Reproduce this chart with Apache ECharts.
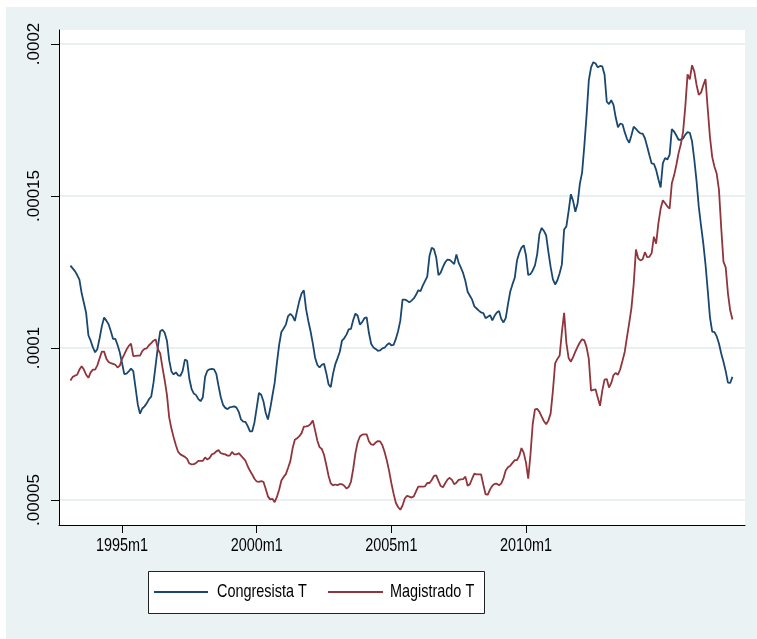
<!DOCTYPE html>
<html>
<head>
<meta charset="utf-8">
<script src="https://cdn.jsdelivr.net/npm/echarts@6/dist/echarts.min.js"></script>
<style>
  html, body { margin: 0; padding: 0; background: #ffffff; }
  #wrap { position: relative; width: 757px; height: 639px; overflow: hidden; }
  #bg { position: absolute; left: 6px; top: 7px; right: 0; bottom: 0; background: #eaf2f3; }
  #chart { position: absolute; left: 0; top: 0; width: 757px; height: 639px; }
</style>
</head>
<body>
<div id="wrap"><div id="bg"></div><div id="chart"></div></div>
<script>
// Monthly series, first observation in 1993m2, values in millionths
const firstMonth = '1993m2';
const valueUnit = 1e-6;

const congresista = [
  127.1,126.2,125.3,124.0,122.5,118.0,114.8,111.5,104.2,102.4,
  100.2,98.6,99.7,103.2,107.2,110.0,109.0,107.8,105.5,103.0,
  103.0,101.0,98.5,95.0,91.4,91.6,92.3,93.2,92.4,87.0,
  81.5,78.4,80.1,80.8,81.8,83.2,84.0,88.5,94.5,100.5,
  105.5,106.0,105.0,102.4,96.0,92.3,91.3,92.0,91.0,90.8,
  92.5,96.2,95.8,89.8,86.5,85.0,84.5,83.2,82.5,83.8,
  90.5,92.5,93.0,93.1,93.0,91.5,87.5,83.8,81.3,80.3,
  79.9,80.5,80.6,80.8,80.4,79.0,76.5,75.8,75.7,74.3,
  72.6,72.6,75.5,80.3,85.2,84.6,82.5,78.7,76.5,80.0,
  84.3,88.5,95.0,101.0,105.3,106.4,107.7,110.5,111.2,110.5,
  108.9,112.3,115.5,117.9,119.0,112.8,108.9,105.5,101.5,96.9,
  94.5,93.6,94.5,94.8,91.8,88.1,87.1,91.5,94.6,96.6,
  98.7,102.4,103.2,104.4,106.1,106.3,109.2,111.3,110.6,107.7,
  108.5,109.8,110.1,105.0,101.4,100.2,99.7,99.1,99.2,99.9,
  100.1,101.0,101.6,100.9,101.0,103.0,105.5,109.0,115.9,115.9,
  115.6,115.0,115.6,116.3,117.5,119.0,118.7,120.5,122.0,123.5,
  130.3,133.0,132.5,129.8,124.0,124.8,126.7,128.2,129.1,129.0,
  128.3,127.6,130.8,128.0,126.4,124.6,122.0,118.5,117.2,115.9,
  113.7,113.0,112.3,111.7,111.5,109.8,110.3,110.8,109.1,110.6,
  111.7,112.2,109.5,108.4,109.9,114.5,118.6,121.0,123.1,128.8,
  131.3,133.0,133.8,130.5,124.0,124.3,125.5,127.2,130.9,137.5,
  139.5,138.5,137.0,131.5,126.6,122.6,120.9,122.3,124.6,127.5,
  139.0,140.0,145.0,150.6,148.4,144.8,147.5,154.0,157.7,166.5,
  176.5,188.0,192.3,194.0,193.6,192.3,192.8,192.6,190.0,181.0,
  180.2,181.5,180.0,175.8,172.6,173.8,173.6,171.0,168.8,167.5,
  170.0,172.8,172.1,171.2,170.6,170.5,169.0,166.3,163.4,160.7,
  160.6,158.6,155.5,152.8,160.8,162.5,162.0,163.5,172.0,171.2,
  169.9,168.5,168.5,168.9,170.2,171.0,170.8,168.0,162.0,155.0,
  146.5,140.3,134.5,127.5,118.9,110.0,105.4,105.2,103.8,101.5,
  98.2,95.5,92.4,88.6,88.5,90.5
];

const magistrado = [
  89.3,90.5,90.9,91.2,92.9,94.0,92.9,91.2,90.2,92.0,
  92.9,92.9,94.3,96.6,98.8,98.8,96.5,95.4,95.0,94.8,
  94.5,93.6,94.2,96.4,97.9,99.5,100.7,101.4,97.3,97.4,
  97.5,97.5,99.0,99.7,99.9,100.9,101.6,102.4,102.8,99.6,
  98.2,93.6,89.4,84.6,77.2,73.5,70.6,68.0,65.8,65.0,
  64.6,64.2,63.5,62.0,61.7,61.8,62.2,62.9,62.9,62.9,
  64.0,63.3,63.8,65.0,65.3,66.0,66.4,65.4,65.2,65.0,
  64.6,64.6,65.8,65.0,65.0,65.4,64.6,63.8,62.9,61.1,
  59.6,58.4,57.0,56.1,56.0,56.2,56.0,53.7,51.2,50.2,
  50.4,49.3,51.0,53.4,56.4,57.6,58.5,60.6,62.8,67.0,
  69.8,70.3,71.0,72.0,74.1,74.2,74.4,75.0,76.2,73.0,
  69.6,67.4,66.8,64.9,61.6,58.0,55.5,54.8,55.1,54.9,
  55.2,55.2,54.7,53.8,54.3,56.0,60.2,65.4,69.0,70.9,
  71.5,71.6,71.6,69.3,68.3,68.1,68.9,69.4,69.3,68.0,
  65.8,63.0,59.6,55.6,52.1,49.1,47.7,46.8,48.2,50.5,
  51.4,51.1,50.8,51.2,52.8,54.4,54.4,54.4,54.5,55.6,
  55.6,56.6,57.9,58.1,56.3,54.6,54.2,55.5,56.7,57.3,
  56.6,55.2,55.7,56.6,56.8,56.9,57.7,54.7,55.2,57.0,
  58.7,58.4,58.4,58.4,55.0,51.9,51.8,53.5,54.7,55.3,
  55.4,54.8,55.5,57.2,59.8,60.8,61.3,62.2,63.1,63.1,
  64.5,67.1,65.5,62.3,57.0,65.0,75.0,79.8,80.0,79.0,
  77.4,75.9,74.9,76.2,78.5,86.0,95.0,96.4,97.5,105.2,
  111.6,101.7,96.7,95.5,97.0,98.8,100.4,101.8,102.9,102.5,
  100.3,96.4,86.0,86.2,86.4,83.6,81.0,86.0,89.6,89.8,
  87.0,88.5,91.1,91.8,91.2,93.0,95.8,98.7,103.6,108.2,
  113.2,121.0,132.4,129.5,128.8,129.2,131.5,129.9,130.0,131.2,
  136.6,134.3,141.0,145.8,148.6,147.6,146.6,145.8,154.2,156.8,
  160.2,164.1,167.0,171.1,179.4,190.0,188.4,193.0,191.0,186.6,
  183.3,184.0,186.4,188.5,178.6,169.3,162.8,159.6,157.3,152.0,
  139.6,128.4,126.5,118.0,112.4,109.4
];

const seriesNames = ['Congresista T', 'Magistrado T'];
const seriesColors = ['#1a476f', '#90353b'];

const xTickLabels = ['1995m1', '2000m1', '2005m1', '2010m1'];
const yTickValues = [0.00005, 0.0001, 0.00015, 0.0002];
const yTickLabels = ['.00005', '.0001', '.00015', '.0002'];

// Stata-style monthly index: months since 1960m1
function monthIndex(s) {
  const parts = s.split('m').map(Number);
  return (parts[0] - 1960) * 12 + (parts[1] - 1);
}

const start = monthIndex(firstMonth);
const toPairs = arr => arr.map((v, i) => [start + i, v * valueUnit]);
const xTicks = xTickLabels.map(monthIndex);

const SANS = 'Arial, "Liberation Sans", sans-serif';
// horizontal texts are set in a condensed width
const CONDENSE = 0.78;
const HFONT = '18.5px ' + SANS;

const chart = echarts.init(document.getElementById('chart'), null, { renderer: 'canvas' });

chart.setOption({
  animation: false,
  backgroundColor: 'transparent',
  grid: {
    left: 59, right: 12, top: 30, bottom: 114,
    show: true, backgroundColor: '#ffffff', borderWidth: 0,
    outerBoundsMode: 'none'
  },
  xAxis: {
    type: 'value',
    min: 391.9, max: 697.6,
    axisLine: { show: true, onZero: false, lineStyle: { color: '#000000', width: 1 } },
    axisTick: { show: true, length: 8, customValues: xTicks, lineStyle: { color: '#000000', width: 1 } },
    axisLabel: { show: false, customValues: xTicks },
    splitLine: { show: false }
  },
  yAxis: {
    type: 'value',
    min: 41.78e-6, max: 204.6e-6,
    axisLine: { show: true, onZero: false, lineStyle: { color: '#000000', width: 1 } },
    axisTick: { show: true, length: 8, customValues: yTickValues, lineStyle: { color: '#000000', width: 1 } },
    axisLabel: {
      customValues: yTickValues,
      rotate: 90,
      formatter: v => {
        let best = 0;
        yTickValues.forEach((t, k) => { if (Math.abs(t - v) < Math.abs(yTickValues[best] - v)) best = k; });
        return yTickLabels[best];
      },
      fontFamily: SANS, fontSize: 17, color: '#000000', margin: 16
    },
    splitLine: { show: true, lineStyle: { color: '#e3ebee', width: 1.5 } }
  },
  series: [
    {
      name: seriesNames[0], type: 'line', data: toPairs(congresista),
      symbol: 'none', showSymbol: false,
      lineStyle: { color: seriesColors[0], width: 1.8 },
      itemStyle: { color: seriesColors[0] }
    },
    {
      name: seriesNames[1], type: 'line', data: toPairs(magistrado),
      symbol: 'none', showSymbol: false,
      lineStyle: { color: seriesColors[1], width: 1.8 },
      itemStyle: { color: seriesColors[1] }
    }
  ]
});

// x tick labels, placed at the axis' own pixel positions
const xLabelY = 546;
const tickTexts = xTicks.map((m, k) => ({
  type: 'text',
  x: chart.convertToPixel({ xAxisIndex: 0 }, m),
  y: xLabelY,
  scaleX: CONDENSE,
  silent: true,
  style: { text: xTickLabels[k], x: 0, y: 0, align: 'center', verticalAlign: 'middle', font: HFONT, fill: '#000000' }
}));

// legend box below the plot
const legendBox = { x: 148.5, y: 571.5, w: 336, h: 42 };
const legendRowY = 592;
const legendItems = [
  { lineFrom: 154, lineTo: 208, textX: 217 },
  { lineFrom: 328, lineTo: 383, textX: 390 }
];
const legendEls = [
  {
    type: 'rect', silent: true,
    shape: { x: legendBox.x, y: legendBox.y, width: legendBox.w, height: legendBox.h },
    style: { fill: '#ffffff', stroke: '#222222', lineWidth: 1 }
  }
];
legendItems.forEach((it, k) => {
  legendEls.push({
    type: 'line', silent: true,
    shape: { x1: it.lineFrom, y1: legendRowY, x2: it.lineTo, y2: legendRowY },
    style: { stroke: seriesColors[k], lineWidth: 2 }
  });
  legendEls.push({
    type: 'text', silent: true,
    x: it.textX, y: legendRowY, scaleX: CONDENSE,
    style: { text: seriesNames[k], x: 0, y: 0, align: 'left', verticalAlign: 'middle', font: HFONT, fill: '#000000' }
  });
});

chart.setOption({ graphic: { elements: tickTexts.concat(legendEls) } });
</script>
</body>
</html>
